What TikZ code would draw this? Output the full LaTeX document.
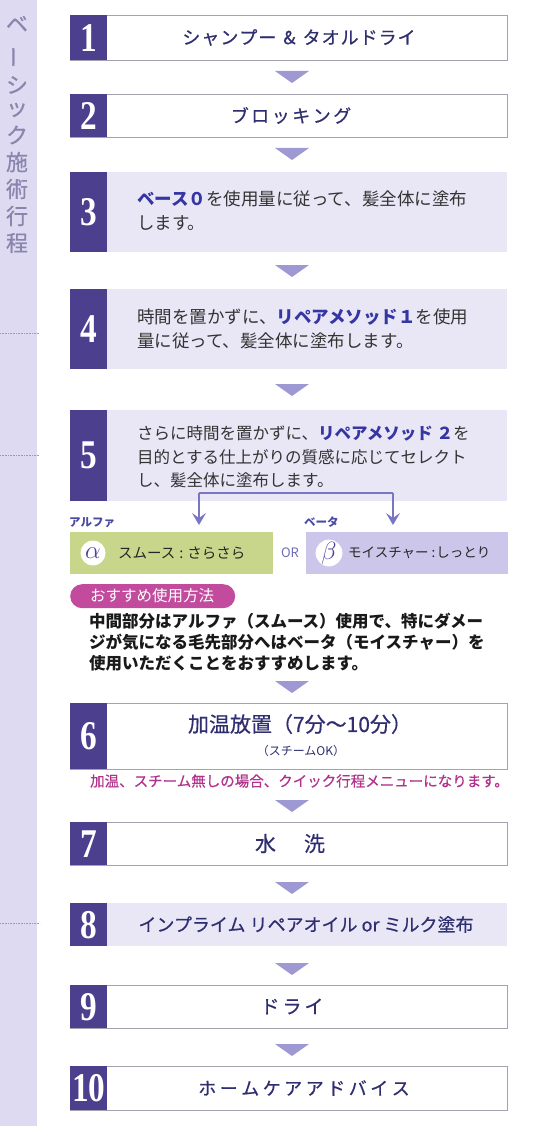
\documentclass[tikz,border=0pt]{standalone}
\usepackage{fontspec}
\setmainfont{Noto Sans CJK JP}
\newfontfamily\jpmed{Noto Sans CJK JP}[FakeBold=0.5]
\newfontfamily\numf{Liberation Serif}
\usetikzlibrary{arrows.meta}
\definecolor{sidec}{HTML}{DDDAF1}
\definecolor{sideln}{HTML}{9B97C9}
\definecolor{sidetx}{HTML}{8A85AC}
\definecolor{boxln}{HTML}{A3A3B0}
\definecolor{boxfl}{HTML}{E9E7F6}
\definecolor{numc}{HTML}{4B3F8E}
\definecolor{trifl}{HTML}{9E99D3}
\definecolor{ttlc}{HTML}{2E2E70}
\definecolor{bodyc}{HTML}{333333}
\definecolor{hlc}{HTML}{3535A3}
\definecolor{alphac}{HTML}{C8D68C}
\definecolor{betac}{HTML}{CCC7EA}
\definecolor{greekc}{HTML}{4E3E9A}
\definecolor{pillc}{HTML}{C24B9E}
\definecolor{notec}{HTML}{B2318C}
\definecolor{brc}{HTML}{7A76C4}
\definecolor{labc}{HTML}{4A4AA2}
\newcommand\hlt[1]{{\bfseries\color{hlc}#1}}
\newcommand\nm[1]{\scalebox{0.98}[1.2]{#1}}
\newcommand\ks{\kern3.5pt}
\begin{document}
\begin{tikzpicture}[x=1pt,y=-1pt,
  wbox/.style={draw=boxln,line width=0.9pt,fill=white,anchor=north west,inner sep=0,minimum width=437pt},
  fbox/.style={fill=boxfl,anchor=north west,inner sep=0,minimum width=437pt},
  numsq/.style={fill=numc,anchor=north west,inner sep=0,minimum width=37pt,text=white,font=\numf\bfseries\fontsize{34}{34}\selectfont},
  ttltext/.style={text=ttlc,inner sep=0,font=\jpmed\fontsize{18}{22}\selectfont},
  bodytext/.style={text=bodyc,inner sep=0,anchor=west,align=left,font=\fontsize{17.5}{24}\selectfont},
  tri/.style={fill=trifl},
  side/.style={text=sidetx,font=\jpmed\fontsize{22}{22}\selectfont,inner sep=0},
  sideline/.style={draw=sideln,line width=0.6pt,densely dotted},
  branch/.style={draw=brc,line width=1.2pt},
  greek/.style={circle,fill=white,minimum size=25pt,inner sep=0,text=greekc,font=\fontsize{24}{24}\selectfont},
  choice/.style={text=black!85,inner sep=0,anchor=west,font=\fontsize{14.5}{15}\selectfont},
  smalllab/.style={text=labc,inner sep=0,anchor=south west,font=\bfseries\fontsize{11.5}{12}\selectfont}
]
\useasboundingbox (0,0) rectangle (550,1134);
\fill[white] (0,0) rectangle (550,1134);
% sidebar
\fill[sidec] (0,0) rectangle (37,1126);
\draw[sideline] (0,333) -- (39,333);
\draw[sideline] (0,455) -- (39,455);
\draw[sideline] (0,923) -- (40,923);
\node[side] (s1) at (17,24) {ベ};
\node[side,rotate=90] (s2) at (17,57) {ー};
\node[side] (s3) at (17,85) {シ};
\node[side] (s4) at (17,110) {ッ};
\node[side] (s5) at (17,135) {ク};
\node[side] (s6) at (17,162) {施};
\node[side] (s7) at (17,189) {術};
\node[side] (s8) at (17,216) {行};
\node[side] (s9) at (17,243) {程};
% step 1
\node[wbox,minimum height=45pt] (b1) at (70,15) {};
\node[numsq,minimum height=45pt] (n1) at (70,15) {\nm{1}};
\node[ttltext] (t1) at (299,37.5) {シ\kern1ptャ\kern1ptン\kern1ptプ\kern1ptー\hspace{7pt}\&\hspace{7pt}タ\kern1ptオ\kern1ptル\kern1ptド\kern1ptラ\kern1ptイ};
\fill[tri] (275,71) -- (309,71) -- (292,83) -- cycle;
% step 2
\node[wbox,minimum height=43pt] (b2) at (70,94) {};
\node[numsq,minimum height=43pt] (n2) at (70,94) {\nm{2}};
\node[ttltext] (t2) at (291,115.5) {ブ\kern2.5ptロ\kern2.5ptッ\kern2.5ptキ\kern2.5ptン\kern2.5ptグ};
\fill[tri] (275,148) -- (309,148) -- (292,160) -- cycle;
% step 3
\node[fbox,minimum height=80pt] (b3) at (70,172) {};
\node[numsq,minimum height=80pt] (n3) at (70,172) {\nm{3}};
\node[bodytext] (t3) at (137,211) {\hlt{ベース０}を使用量に従って、髪全体に塗布\\します。};
\fill[tri] (275,265) -- (309,265) -- (292,277) -- cycle;
% step 4
\node[fbox,minimum height=80pt] (b4) at (70,289) {};
\node[numsq,minimum height=80pt] (n4) at (70,289) {\nm{4}};
\node[bodytext] (t4) at (137,329) {時間を置かずに、\hlt{リペアメソッド１}を使用\\量に従って、髪全体に塗布します。};
\fill[tri] (275,384) -- (309,384) -- (292,396) -- cycle;
% step 5
\node[fbox,minimum height=91pt] (b5) at (70,410) {};
\node[numsq,minimum height=91pt] (n5) at (70,410) {\nm{5}};
\node[bodytext,font=\fontsize{16.5}{23.5}\selectfont] (t5) at (137,457) {さらに時間を置かずに、\hlt{リペアメソッド ２}を\\目的とする仕上がりの質感に応じてセレクト\\し、髪全体に塗布します。};
% branch
\coordinate (bl) at (199,493);
\coordinate (br) at (393,493);
\coordinate (al) at (199,525);
\coordinate (ar) at (393,525);
\draw[branch] (bl) -- (br);
\draw[branch,-{Stealth[length=12pt,width=14pt,inset=5pt]}] (bl) -- (al);
\draw[branch,-{Stealth[length=12pt,width=14pt,inset=5pt]}] (br) -- (ar);
% alpha / beta
\node[smalllab] (la) at (69,528) {アルファ};
\node[smalllab] (lb) at (304,528) {ベータ};
\fill[alphac] (70,532) rectangle (273,574);
\fill[betac] (306,532) rectangle (508,574);
\node[greek] (ga) at (93,553) {$\alpha$};
\node[greek] (gb) at (329,553) {$\beta$};
\node[choice] (ca) at (118,553) {スムース\hspace{4pt}:\hspace{4pt}さらさら};
\node[choice,font=\fontsize{13.5}{15}\selectfont] (cb) at (348,553) {モイスチャー\hspace{3pt}:\hspace{1pt}しっとり};
\node[text=labc!80,inner sep=0,font=\fontsize{13}{13}\selectfont] (or) at (290,553) {OR};
% recommendation
\node[fill=pillc,rounded corners=12pt,anchor=north west,minimum width=165pt,minimum height=24pt,inner sep=0] (pill) at (70,584) {};
\node[text=white,inner sep=0,font=\fontsize{15.5}{16}\selectfont] (pt) at (152,596) {おすすめ使用方法};
\node[inner sep=0,anchor=west,align=left,text=black!90,font=\bfseries\fontsize{16.5}{21}\selectfont] (para) at (89,642) {中間部分はアルファ（スムース）使用で、特にダメー\\ジが気になる毛先部分へはベータ（モイスチャー）を\\使用いただくことをおすすめします。};
\fill[tri] (275,681) -- (309,681) -- (292,693) -- cycle;
% step 6
\node[wbox,minimum height=66pt] (b6) at (70,703) {};
\node[numsq,minimum height=66pt] (n6) at (70,703) {\nm{6}};
\node[ttltext,font=\jpmed\fontsize{21}{22}\selectfont] (t6) at (300,724) {加温放置（7分～10分）};
\node[ttltext,font=\fontsize{12}{13}\selectfont] (t6b) at (301,751) {（スチームOK）};
\node[inner sep=0,anchor=west,text=notec,font=\jpmed\fontsize{14.5}{15}\selectfont] (note) at (90,781) {加温、スチーム無しの場合、クイック行程メニューになります。};
\fill[tri] (275,800) -- (309,800) -- (292,812) -- cycle;
% step 7
\node[wbox,minimum height=43pt] (b7) at (70,822) {};
\node[numsq,minimum height=43pt] (n7) at (70,822) {\nm{7}};
\node[ttltext,font=\jpmed\fontsize{21}{22}\selectfont] (t7) at (290,843.5) {水\hspace{28pt}洗};
\fill[tri] (275,882) -- (309,882) -- (292,894) -- cycle;
% step 8
\node[fbox,minimum height=43pt] (b8) at (70,903) {};
\node[numsq,minimum height=43pt] (n8) at (70,903) {\nm{8}};
\node[ttltext] (t8) at (306,924.5) {インプライム リペアオイル or ミルク塗布};
\fill[tri] (275,963) -- (309,963) -- (292,975) -- cycle;
% step 9
\node[wbox,minimum height=43pt] (b9) at (70,985) {};
\node[numsq,minimum height=43pt] (n9) at (70,985) {\nm{9}};
\node[ttltext,font=\jpmed\fontsize{19}{22}\selectfont] (t9) at (292,1006.5) {ド\kern3ptラ\kern3ptイ};
\fill[tri] (275,1044) -- (309,1044) -- (292,1056) -- cycle;
% step 10
\node[wbox,minimum height=44pt] (b10) at (70,1066) {};
\node[numsq,minimum height=44pt] (n10) at (70,1066) {\nm{10}};
\node[ttltext] (t10) at (304,1088) {ホ\ks ー\ks ム\ks ケ\ks ア\ks ア\ks ド\ks バ\ks イ\ks ス};
\end{tikzpicture}
\end{document}
